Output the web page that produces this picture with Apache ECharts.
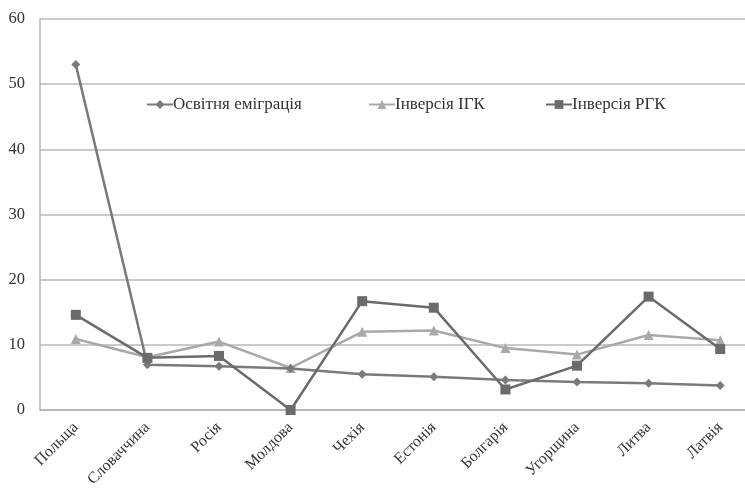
<!DOCTYPE html>
<html>
<head>
<meta charset="utf-8">
<script src="https://cdn.jsdelivr.net/npm/echarts@6/dist/echarts.min.js"></script>
<style>html,body{margin:0;padding:0;background:#fff}#c{width:745px;height:492px}</style>
</head>
<body>
<div id="c"></div>
<script>
var categories = ['Польща','Словаччина','Росія','Молдова','Чехія','Естонія','Болгарія','Угорщина','Литва','Латвія'];
var seriesNames = ['Освітня еміграція','Інверсія ІГК','Інверсія РГК'];
var eduEmigration = [53, 6.95, 6.7, 6.35, 5.5, 5.1, 4.6, 4.3, 4.1, 3.75];
var inversionIGK = [10.9, 8.1, 10.5, 6.45, 12.0, 12.2, 9.5, 8.5, 11.5, 10.7];
var inversionRGK = [14.6, 8.0, 8.3, 0, 16.7, 15.7, 3.15, 6.8, 17.4, 9.35];
var yTicks = [0, 10, 20, 30, 40, 50, 60];

var serif = '"Liberation Serif","DejaVu Serif",serif';
var colors = ['#7a7a7a', '#a9a9a9', '#6b6b6b'];
var symbols = ['diamond', 'triangle', 'rect'];
var sizes = [9, 10, 10];
var datas = [eduEmigration, inversionIGK, inversionRGK];
var legendLeft = [146, 368, 545];

var chart = echarts.init(document.getElementById('c'));
chart.setOption({
  animation: false,
  backgroundColor: '#fff',
  grid: {left: 40, top: 19, width: 716, height: 391, containLabel: false, outerBoundsMode: 'none'},
  legend: seriesNames.map(function (n, i) {
    return {
      data: [n], left: legendLeft[i], top: 96, padding: 0,
      itemWidth: 26, itemHeight: 11, itemGap: 2,
      textStyle: {fontFamily: serif, fontSize: 17, color: '#333', padding: [0,0,0,-5]}
    };
  }),
  xAxis: {
    type: 'category', data: categories, boundaryGap: true,
    axisLine: {show: true, lineStyle: {color: '#b3b3b3', width: 1.5}},
    axisTick: {show: false},
    axisLabel: {rotate: 45, fontFamily: serif, fontSize: 16, color: '#333', margin: 15, interval: 0}
  },
  yAxis: {
    type: 'value', min: yTicks[0], max: yTicks[yTicks.length-1], interval: 10,
    axisLine: {show: true, lineStyle: {color: '#b3b3b3', width: 1.5}},
    axisTick: {show: false},
    splitLine: {lineStyle: {color: '#b8b8b8', width: 1.5}},
    axisLabel: {fontFamily: serif, fontSize: 16.5, color: '#333', margin: 15}
  },
  series: seriesNames.map(function (n, i) {
    return {
      name: n, type: 'line', data: datas[i],
      symbol: symbols[i], symbolSize: sizes[i], showAllSymbol: true,
      lineStyle: {color: colors[i], width: 2.5},
      itemStyle: {color: colors[i]},
      z: i === 1 ? 2 : (i === 0 ? 3 : 4)
    };
  })
});
</script>
</body>
</html>
